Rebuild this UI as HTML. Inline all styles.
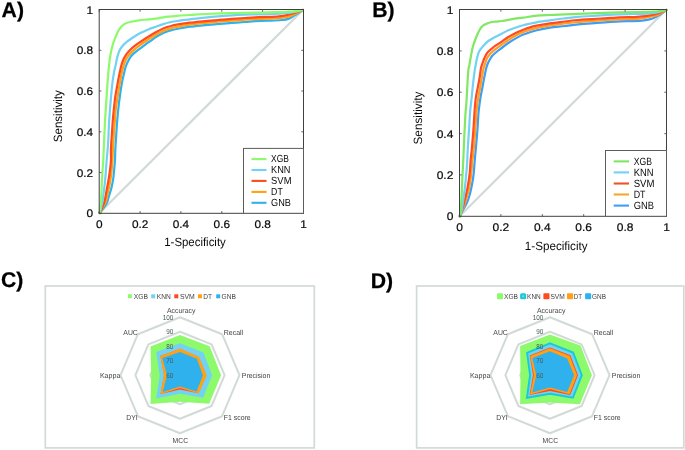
<!DOCTYPE html>
<html><head><meta charset="utf-8"><title>Figure</title>
<style>html,body{margin:0;padding:0;background:#fff;}svg{display:block;}</style>
</head><body>
<svg width="685" height="450" viewBox="0 0 685 450" style="text-rendering:geometricPrecision">
<rect width="685" height="450" fill="#fff"/>
<line x1="99.2" y1="213.3" x2="303.5" y2="9.5" stroke="#d2dad8" stroke-width="2.2"/>
<path d="M99.8,213.0 C100.9,211.5 104.8,206.8 106.3,204.0 C107.8,201.2 108.1,198.9 109.0,196.0 C109.9,193.1 111.0,189.8 111.7,186.7 C112.4,183.6 113.0,180.4 113.4,177.3 C113.8,174.2 114.0,170.9 114.3,168.0 C114.6,165.1 114.8,163.0 115.0,160.0 C115.2,157.0 115.1,153.9 115.3,150.0 C115.5,146.1 115.8,141.1 116.1,136.7 C116.4,132.2 116.7,127.4 117.0,123.3 C117.3,119.2 117.7,115.0 118.0,112.0 C118.3,109.0 118.4,108.2 118.7,105.3 C119.0,102.4 119.6,98.2 120.1,94.7 C120.6,91.2 121.1,87.3 121.7,84.0 C122.3,80.7 123.0,77.6 123.7,74.7 C124.4,71.8 124.9,69.1 125.7,66.7 C126.5,64.3 127.7,62.0 128.6,60.3 C129.5,58.6 129.9,57.6 131.0,56.3 C132.1,55.0 133.4,53.6 135.0,52.3 C136.6,51.0 138.5,49.6 140.3,48.3 C142.1,47.0 143.9,45.6 145.7,44.3 C147.5,43.0 149.2,41.9 151.0,40.6 C152.8,39.3 154.6,37.8 156.7,36.5 C158.8,35.2 161.1,34.0 163.3,33.0 C165.5,32.0 167.8,31.3 170.0,30.6 C172.2,29.9 173.4,29.6 176.7,29.0 C180.0,28.4 185.3,27.3 190.0,26.7 C194.7,26.1 200.3,25.6 205.0,25.1 C209.7,24.7 213.9,24.4 218.3,24.0 C222.8,23.6 227.2,23.2 231.7,22.9 C236.1,22.6 241.1,22.3 245.0,22.0 C248.9,21.7 251.1,21.3 255.0,21.1 C258.9,20.9 263.9,20.9 268.3,20.7 C272.8,20.5 278.4,20.3 281.7,20.0 C285.0,19.7 286.1,19.7 288.3,18.9 C290.5,18.1 292.6,16.6 295.0,15.1 C297.4,13.6 301.6,10.8 302.9,10.0" fill="none" stroke="#2fb1ee" stroke-width="2.2" stroke-linejoin="round" stroke-linecap="round"/>
<path d="M99.8,213.0 C100.7,211.3 104.1,206.0 105.4,202.7 C106.7,199.4 107.0,196.4 107.7,193.3 C108.4,190.2 109.1,187.3 109.7,184.0 C110.3,180.7 110.9,176.9 111.3,173.3 C111.7,169.8 112.0,166.1 112.3,162.7 C112.5,159.3 112.6,157.0 112.8,152.7 C113.0,148.4 113.4,141.6 113.7,136.7 C114.0,131.8 114.4,127.4 114.7,123.3 C115.0,119.2 115.2,115.0 115.5,112.0 C115.8,109.0 115.9,108.2 116.3,105.3 C116.7,102.4 117.3,98.2 117.9,94.7 C118.5,91.2 119.1,87.3 119.7,84.0 C120.3,80.7 120.8,77.6 121.4,74.7 C122.0,71.8 122.5,69.2 123.3,66.7 C124.0,64.2 125.0,61.6 125.9,59.7 C126.8,57.8 127.5,56.8 128.6,55.4 C129.7,54.0 130.9,52.7 132.3,51.4 C133.7,50.1 135.2,48.8 137.0,47.4 C138.8,46.0 140.9,44.5 143.0,43.0 C145.1,41.5 147.4,40.1 149.7,38.6 C152.0,37.1 154.4,35.5 156.7,34.2 C159.0,32.9 161.1,31.8 163.3,30.9 C165.5,30.0 167.8,29.2 170.0,28.6 C172.2,28.0 173.4,27.6 176.7,27.0 C180.0,26.4 185.3,25.4 190.0,24.7 C194.7,24.0 200.3,23.4 205.0,22.9 C209.7,22.4 213.9,22.1 218.3,21.7 C222.8,21.3 227.2,21.0 231.7,20.7 C236.1,20.4 241.1,20.0 245.0,19.7 C248.9,19.4 251.1,19.3 255.0,19.1 C258.9,18.9 264.1,18.9 268.3,18.7 C272.5,18.5 277.0,18.3 280.3,18.0 C283.6,17.7 285.9,17.4 288.3,16.7 C290.8,16.0 292.6,15.1 295.0,14.0 C297.4,12.9 301.6,10.7 302.9,10.0" fill="none" stroke="#ffa016" stroke-width="2.2" stroke-linejoin="round" stroke-linecap="round"/>
<path d="M99.8,213.0 C100.5,211.3 103.0,206.2 104.1,202.7 C105.2,199.2 105.6,195.6 106.3,192.0 C107.0,188.4 107.7,184.9 108.3,181.3 C108.9,177.8 109.5,174.2 109.9,170.7 C110.4,167.1 110.8,163.4 111.0,160.0 C111.2,156.6 110.8,153.9 110.9,150.0 C111.0,146.1 111.4,141.1 111.7,136.7 C112.0,132.2 112.3,127.6 112.6,123.3 C112.9,119.0 113.3,114.8 113.7,110.7 C114.1,106.6 114.5,102.7 115.0,98.7 C115.5,94.7 116.3,90.5 117.0,86.7 C117.7,82.9 118.3,79.3 119.0,76.0 C119.7,72.7 120.3,69.4 121.0,66.7 C121.7,64.0 122.4,61.8 123.3,59.7 C124.2,57.6 125.1,56.0 126.3,54.3 C127.5,52.6 128.9,51.1 130.3,49.7 C131.8,48.3 133.1,47.2 135.0,45.7 C136.9,44.2 139.5,42.5 141.7,41.0 C143.9,39.5 145.8,38.2 148.3,36.7 C150.8,35.2 154.2,33.2 156.7,31.8 C159.2,30.4 161.1,29.4 163.3,28.5 C165.5,27.6 167.8,26.9 170.0,26.3 C172.2,25.7 173.4,25.3 176.7,24.7 C180.0,24.1 185.3,23.3 190.0,22.7 C194.7,22.1 200.3,21.6 205.0,21.1 C209.7,20.7 213.9,20.4 218.3,20.0 C222.8,19.6 227.2,19.2 231.7,18.9 C236.1,18.6 241.1,18.3 245.0,18.0 C248.9,17.7 251.1,17.5 255.0,17.3 C258.9,17.1 264.3,17.0 268.3,16.9 C272.3,16.8 275.9,16.7 279.0,16.4 C282.1,16.1 284.3,15.7 287.0,15.1 C289.7,14.5 292.4,13.5 295.0,12.7 C297.6,11.8 301.6,10.4 302.9,10.0" fill="none" stroke="#ff4a1c" stroke-width="2.2" stroke-linejoin="round" stroke-linecap="round"/>
<path d="M99.8,213.0 C100.2,211.3 101.6,206.2 102.3,202.7 C103.0,199.2 103.2,195.6 103.7,192.0 C104.2,188.4 104.6,184.9 105.0,181.3 C105.4,177.8 105.6,174.2 105.9,170.7 C106.2,167.1 106.3,164.6 106.7,160.0 C107.1,155.4 107.7,149.4 108.1,143.3 C108.5,137.2 108.7,128.7 109.0,123.3 C109.3,117.9 109.6,115.0 109.9,110.7 C110.2,106.4 110.6,101.8 111.0,97.3 C111.4,92.8 111.8,88.4 112.3,84.0 C112.8,79.6 113.7,73.9 114.3,70.7 C114.9,67.5 115.2,67.1 115.7,65.0 C116.2,62.9 116.5,60.5 117.0,58.3 C117.5,56.1 118.2,53.6 119.0,51.7 C119.8,49.8 120.4,48.7 121.7,47.0 C123.0,45.3 125.0,43.4 127.0,41.7 C129.0,40.0 131.5,38.5 133.7,37.0 C135.9,35.5 137.9,34.3 140.3,33.0 C142.7,31.7 145.9,30.4 148.3,29.4 C150.8,28.4 152.5,27.9 155.0,27.0 C157.5,26.1 160.8,24.9 163.3,24.1 C165.8,23.3 167.8,22.8 170.0,22.3 C172.2,21.8 173.4,21.5 176.7,21.0 C180.0,20.5 185.3,19.9 190.0,19.3 C194.7,18.7 200.3,18.1 205.0,17.6 C209.7,17.1 213.9,16.7 218.3,16.3 C222.8,15.9 227.2,15.6 231.7,15.3 C236.1,15.0 241.1,14.8 245.0,14.7 C248.9,14.5 251.1,14.5 255.0,14.4 C258.9,14.3 263.9,14.2 268.3,14.0 C272.8,13.8 277.7,13.6 281.7,13.3 C285.7,13.0 288.8,12.9 292.3,12.3 C295.8,11.8 301.1,10.4 302.9,10.0" fill="none" stroke="#72d2f3" stroke-width="2.2" stroke-linejoin="round" stroke-linecap="round"/>
<path d="M99.8,213.0 C100.0,210.8 100.7,204.4 101.0,200.0 C101.3,195.6 101.5,191.1 101.7,186.7 C101.9,182.2 102.0,177.8 102.3,173.3 C102.6,168.9 103.1,163.9 103.3,160.0 C103.5,156.1 103.5,155.0 103.7,150.0 C103.9,145.0 104.3,136.7 104.6,130.0 C104.9,123.3 105.3,116.5 105.7,110.0 C106.1,103.5 106.6,96.8 107.0,90.7 C107.4,84.6 107.9,77.9 108.3,73.3 C108.7,68.7 109.0,65.9 109.3,63.0 C109.6,60.1 109.8,58.5 110.3,55.7 C110.8,52.9 111.5,49.2 112.3,46.3 C113.1,43.4 114.0,40.8 115.0,38.3 C116.0,35.8 117.2,33.0 118.3,31.0 C119.4,29.0 120.5,27.6 121.7,26.3 C122.9,25.0 124.2,24.2 125.7,23.4 C127.2,22.6 128.8,22.2 131.0,21.7 C133.2,21.2 136.1,20.7 139.0,20.3 C141.9,19.9 145.6,19.7 148.3,19.4 C151.0,19.1 152.5,19.0 155.0,18.7 C157.5,18.4 159.7,17.8 163.3,17.3 C166.9,16.8 172.2,16.3 176.7,15.9 C181.1,15.5 185.3,15.3 190.0,15.0 C194.7,14.7 198.1,14.3 205.0,14.0 C211.9,13.7 223.4,13.3 231.7,13.1 C240.0,12.9 248.9,12.7 255.0,12.6 C261.1,12.5 262.8,12.6 268.3,12.4 C273.9,12.2 282.5,12.1 288.3,11.7 C294.1,11.3 300.5,10.3 302.9,10.0" fill="none" stroke="#8cfa6a" stroke-width="2.2" stroke-linejoin="round" stroke-linecap="round"/>
<rect x="99.2" y="9.5" width="204.3" height="203.8" fill="none" stroke="#404040" stroke-width="1"/>
<path d="M99.2,213.3 v-2.2 M99.2,9.5 v2.2 M99.2,213.3 h2.2 M303.5,213.3 h-2.2" stroke="#404040" stroke-width="0.8" fill="none"/>
<text x="99.2" y="227.5" font-size="11" font-family="Liberation Sans, sans-serif" text-anchor="middle" font-weight="normal" fill="#0a0a0a" textLength="6.6" lengthAdjust="spacingAndGlyphs" stroke="#0a0a0a" stroke-width="0.2">0</text>
<text x="93.1" y="217.3" font-size="11" font-family="Liberation Sans, sans-serif" text-anchor="end" font-weight="normal" fill="#0a0a0a" textLength="6.6" lengthAdjust="spacingAndGlyphs" stroke="#0a0a0a" stroke-width="0.2">0</text>
<path d="M140.1,213.3 v-2.2 M140.1,9.5 v2.2 M99.2,172.6 h2.2 M303.5,172.6 h-2.2" stroke="#404040" stroke-width="0.8" fill="none"/>
<text x="140.1" y="227.5" font-size="11" font-family="Liberation Sans, sans-serif" text-anchor="middle" font-weight="normal" fill="#0a0a0a" textLength="16.4" lengthAdjust="spacingAndGlyphs" stroke="#0a0a0a" stroke-width="0.2">0.2</text>
<text x="93.1" y="176.6" font-size="11" font-family="Liberation Sans, sans-serif" text-anchor="end" font-weight="normal" fill="#0a0a0a" textLength="16.4" lengthAdjust="spacingAndGlyphs" stroke="#0a0a0a" stroke-width="0.2">0.2</text>
<path d="M180.9,213.3 v-2.2 M180.9,9.5 v2.2 M99.2,131.8 h2.2 M303.5,131.8 h-2.2" stroke="#404040" stroke-width="0.8" fill="none"/>
<text x="180.9" y="227.5" font-size="11" font-family="Liberation Sans, sans-serif" text-anchor="middle" font-weight="normal" fill="#0a0a0a" textLength="16.4" lengthAdjust="spacingAndGlyphs" stroke="#0a0a0a" stroke-width="0.2">0.4</text>
<text x="93.1" y="135.8" font-size="11" font-family="Liberation Sans, sans-serif" text-anchor="end" font-weight="normal" fill="#0a0a0a" textLength="16.4" lengthAdjust="spacingAndGlyphs" stroke="#0a0a0a" stroke-width="0.2">0.4</text>
<path d="M221.8,213.3 v-2.2 M221.8,9.5 v2.2 M99.2,91.0 h2.2 M303.5,91.0 h-2.2" stroke="#404040" stroke-width="0.8" fill="none"/>
<text x="221.8" y="227.5" font-size="11" font-family="Liberation Sans, sans-serif" text-anchor="middle" font-weight="normal" fill="#0a0a0a" textLength="16.4" lengthAdjust="spacingAndGlyphs" stroke="#0a0a0a" stroke-width="0.2">0.6</text>
<text x="93.1" y="95.0" font-size="11" font-family="Liberation Sans, sans-serif" text-anchor="end" font-weight="normal" fill="#0a0a0a" textLength="16.4" lengthAdjust="spacingAndGlyphs" stroke="#0a0a0a" stroke-width="0.2">0.6</text>
<path d="M262.6,213.3 v-2.2 M262.6,9.5 v2.2 M99.2,50.3 h2.2 M303.5,50.3 h-2.2" stroke="#404040" stroke-width="0.8" fill="none"/>
<text x="262.6" y="227.5" font-size="11" font-family="Liberation Sans, sans-serif" text-anchor="middle" font-weight="normal" fill="#0a0a0a" textLength="16.4" lengthAdjust="spacingAndGlyphs" stroke="#0a0a0a" stroke-width="0.2">0.8</text>
<text x="93.1" y="54.3" font-size="11" font-family="Liberation Sans, sans-serif" text-anchor="end" font-weight="normal" fill="#0a0a0a" textLength="16.4" lengthAdjust="spacingAndGlyphs" stroke="#0a0a0a" stroke-width="0.2">0.8</text>
<path d="M303.5,213.3 v-2.2 M303.5,9.5 v2.2 M99.2,9.5 h2.2 M303.5,9.5 h-2.2" stroke="#404040" stroke-width="0.8" fill="none"/>
<text x="303.5" y="227.5" font-size="11" font-family="Liberation Sans, sans-serif" text-anchor="middle" font-weight="normal" fill="#0a0a0a" textLength="6.6" lengthAdjust="spacingAndGlyphs" stroke="#0a0a0a" stroke-width="0.2">1</text>
<text x="93.1" y="13.5" font-size="11" font-family="Liberation Sans, sans-serif" text-anchor="end" font-weight="normal" fill="#0a0a0a" textLength="6.6" lengthAdjust="spacingAndGlyphs" stroke="#0a0a0a" stroke-width="0.2">1</text>
<rect x="243.5" y="148.4" width="60.0" height="64.9" fill="#fff" stroke="#5c5c5c" stroke-width="1"/>
<line x1="251.5" y1="159.1" x2="266.5" y2="159.1" stroke="#8cfa6a" stroke-width="2.1"/>
<text x="271.1" y="162.3" font-size="10.3" font-family="Liberation Sans, sans-serif" text-anchor="start" font-weight="normal" fill="#0a0a0a" textLength="17.8" lengthAdjust="spacingAndGlyphs" >XGB</text>
<line x1="251.5" y1="170.0" x2="266.5" y2="170.0" stroke="#72d2f3" stroke-width="2.1"/>
<text x="271.1" y="173.2" font-size="10.3" font-family="Liberation Sans, sans-serif" text-anchor="start" font-weight="normal" fill="#0a0a0a" textLength="19.4" lengthAdjust="spacingAndGlyphs" >KNN</text>
<line x1="251.5" y1="180.9" x2="266.5" y2="180.9" stroke="#ff4a1c" stroke-width="2.1"/>
<text x="271.1" y="184.1" font-size="10.3" font-family="Liberation Sans, sans-serif" text-anchor="start" font-weight="normal" fill="#0a0a0a" textLength="20.4" lengthAdjust="spacingAndGlyphs" >SVM</text>
<line x1="251.5" y1="191.9" x2="266.5" y2="191.9" stroke="#ffa016" stroke-width="2.1"/>
<text x="271.1" y="195.0" font-size="10.3" font-family="Liberation Sans, sans-serif" text-anchor="start" font-weight="normal" fill="#0a0a0a" textLength="11.6" lengthAdjust="spacingAndGlyphs" >DT</text>
<line x1="251.5" y1="202.8" x2="266.5" y2="202.8" stroke="#2fb1ee" stroke-width="2.1"/>
<text x="271.1" y="205.9" font-size="10.3" font-family="Liberation Sans, sans-serif" text-anchor="start" font-weight="normal" fill="#0a0a0a" textLength="19.8" lengthAdjust="spacingAndGlyphs" >GNB</text>
<text x="195.0" y="246.0" font-size="12" font-family="Liberation Sans, sans-serif" text-anchor="middle" font-weight="normal" fill="#0a0a0a" textLength="61.5" lengthAdjust="spacingAndGlyphs" >1-Specificity</text>
<text transform="translate(62.4,116.2) rotate(-90)" font-size="12" font-family="Liberation Sans, sans-serif" text-anchor="middle" fill="#0a0a0a" textLength="52.0" lengthAdjust="spacingAndGlyphs">Sensitivity</text>
<line x1="459.5" y1="216.3" x2="666.5" y2="9.5" stroke="#d2dad8" stroke-width="2.2"/>
<path d="M459.7,216.3 C460.3,215.1 462.3,211.3 463.5,209.0 C464.7,206.7 466.0,205.1 467.0,202.7 C468.0,200.3 468.8,197.8 469.7,194.7 C470.6,191.6 471.4,187.6 472.1,184.0 C472.8,180.4 473.3,177.0 473.7,173.3 C474.1,169.6 474.3,165.9 474.6,162.0 C474.9,158.1 475.2,155.3 475.7,150.0 C476.2,144.7 476.9,136.3 477.4,130.0 C477.9,123.7 478.1,117.2 478.6,112.0 C479.1,106.8 479.7,102.7 480.3,98.7 C480.9,94.7 481.6,91.6 482.3,88.0 C483.0,84.4 483.6,80.6 484.3,77.3 C485.0,74.0 485.7,70.4 486.3,68.0 C486.9,65.6 487.4,64.4 488.0,63.0 C488.6,61.6 489.0,60.9 489.7,59.7 C490.4,58.5 491.0,57.2 492.3,55.7 C493.6,54.2 496.1,52.3 497.7,51.0 C499.3,49.7 499.9,49.3 501.7,48.0 C503.5,46.7 505.8,44.7 508.3,43.0 C510.8,41.3 514.2,39.3 516.7,37.9 C519.2,36.5 521.1,35.5 523.3,34.6 C525.5,33.7 527.8,33.0 530.0,32.3 C532.2,31.6 533.4,31.1 536.7,30.3 C540.0,29.5 545.3,28.4 550.0,27.7 C554.7,27.0 560.3,26.6 565.0,26.0 C569.7,25.4 573.8,24.8 578.3,24.4 C582.8,23.9 587.2,23.6 591.7,23.3 C596.2,23.0 600.3,22.7 605.0,22.4 C609.7,22.1 615.3,21.5 620.0,21.3 C624.7,21.1 629.3,21.3 633.3,21.1 C637.3,20.9 640.9,20.7 644.0,20.3 C647.1,19.9 649.5,19.5 652.0,18.7 C654.5,17.9 656.3,16.8 658.7,15.3 C661.1,13.9 665.1,10.9 666.4,10.0" fill="none" stroke="#3c9ff4" stroke-width="2.2" stroke-linejoin="round" stroke-linecap="round"/>
<path d="M459.7,216.3 C460.2,215.2 461.4,212.9 462.5,210.0 C463.6,207.1 465.2,202.6 466.3,198.7 C467.4,194.8 468.6,190.9 469.4,186.7 C470.2,182.5 470.8,177.4 471.3,173.3 C471.8,169.2 471.8,165.9 472.2,162.0 C472.6,158.1 473.2,155.3 473.7,150.0 C474.2,144.7 474.8,136.3 475.3,130.0 C475.8,123.7 476.0,117.2 476.5,112.0 C477.0,106.8 477.5,102.7 478.1,98.7 C478.7,94.7 479.5,91.6 480.1,88.0 C480.7,84.4 481.3,80.6 481.9,77.3 C482.5,74.0 483.1,70.4 483.7,68.0 C484.3,65.6 484.8,64.6 485.3,63.0 C485.9,61.4 486.2,59.8 487.0,58.3 C487.8,56.8 489.0,55.1 490.3,53.7 C491.6,52.3 493.1,51.2 495.0,49.7 C496.9,48.2 499.5,46.3 501.7,44.7 C503.9,43.1 505.8,41.6 508.3,40.0 C510.8,38.4 514.2,36.3 516.7,35.0 C519.2,33.7 521.1,33.0 523.3,32.1 C525.5,31.2 527.8,30.5 530.0,29.8 C532.2,29.1 533.4,28.6 536.7,27.9 C540.0,27.1 545.3,26.1 550.0,25.3 C554.7,24.6 560.3,23.9 565.0,23.4 C569.7,22.8 573.8,22.4 578.3,22.0 C582.8,21.6 587.2,21.2 591.7,20.9 C596.2,20.6 600.3,20.3 605.0,20.0 C609.7,19.7 615.3,19.4 620.0,19.3 C624.7,19.2 629.3,19.3 633.3,19.1 C637.3,18.9 640.9,18.4 644.0,18.0 C647.1,17.6 649.5,17.0 652.0,16.4 C654.5,15.8 656.3,15.5 658.7,14.4 C661.1,13.3 665.1,10.7 666.4,10.0" fill="none" stroke="#ff9e22" stroke-width="2.2" stroke-linejoin="round" stroke-linecap="round"/>
<path d="M459.7,216.3 C460.1,215.2 461.2,212.7 462.0,210.0 C462.8,207.3 463.7,203.9 464.6,200.0 C465.6,196.1 466.9,191.1 467.7,186.7 C468.5,182.2 469.2,177.4 469.7,173.3 C470.2,169.2 470.2,165.9 470.5,162.0 C470.8,158.1 471.2,155.3 471.7,150.0 C472.2,144.7 472.9,136.3 473.4,130.0 C473.9,123.7 474.1,117.2 474.5,112.0 C474.9,106.8 475.2,102.7 475.7,98.7 C476.2,94.7 477.0,91.6 477.7,88.0 C478.4,84.4 479.1,80.6 479.7,77.3 C480.2,74.0 480.5,70.4 481.0,68.0 C481.5,65.6 482.1,64.6 482.6,63.0 C483.2,61.4 483.5,60.1 484.3,58.3 C485.1,56.5 486.1,54.2 487.7,52.3 C489.3,50.4 491.4,48.8 493.7,47.0 C496.0,45.2 499.3,43.4 501.7,41.7 C504.1,40.0 505.8,38.5 508.3,37.0 C510.8,35.5 514.2,33.6 516.7,32.4 C519.2,31.2 521.1,30.5 523.3,29.7 C525.5,28.9 527.8,28.1 530.0,27.4 C532.2,26.7 533.4,26.4 536.7,25.7 C540.0,25.0 545.3,24.1 550.0,23.4 C554.7,22.7 560.3,22.1 565.0,21.5 C569.7,20.9 573.8,20.4 578.3,20.0 C582.8,19.6 587.2,19.4 591.7,19.1 C596.2,18.8 600.3,18.6 605.0,18.3 C609.7,18.0 615.3,17.5 620.0,17.3 C624.7,17.1 629.5,17.2 633.3,17.1 C637.1,17.0 639.8,16.7 642.7,16.4 C645.6,16.1 648.0,15.6 650.7,15.1 C653.4,14.6 656.1,13.9 658.7,13.1 C661.3,12.2 665.1,10.5 666.4,10.0" fill="none" stroke="#ff4a22" stroke-width="2.2" stroke-linejoin="round" stroke-linecap="round"/>
<path d="M459.7,216.3 C460.0,215.6 460.8,214.7 461.4,212.0 C462.0,209.3 462.7,204.2 463.3,200.0 C463.9,195.8 464.5,191.1 465.0,186.7 C465.5,182.2 465.9,177.8 466.3,173.3 C466.7,168.9 467.1,163.9 467.3,160.0 C467.5,156.1 467.4,155.0 467.7,150.0 C468.0,145.0 468.6,136.3 469.0,130.0 C469.4,123.7 469.7,117.5 470.1,112.0 C470.6,106.5 471.2,102.0 471.7,97.3 C472.2,92.6 472.5,88.4 473.0,84.0 C473.5,79.6 474.2,73.9 474.7,70.7 C475.1,67.5 475.3,67.1 475.7,65.0 C476.1,62.9 476.4,60.5 477.0,58.3 C477.6,56.1 478.0,53.7 479.0,51.7 C480.0,49.7 481.4,48.1 483.0,46.3 C484.6,44.5 486.3,42.5 488.3,41.0 C490.3,39.5 492.8,38.2 495.0,37.0 C497.2,35.8 499.5,34.8 501.7,33.7 C503.9,32.6 505.8,31.4 508.3,30.3 C510.8,29.2 514.2,28.1 516.7,27.3 C519.2,26.5 521.1,25.9 523.3,25.3 C525.5,24.7 527.8,24.2 530.0,23.7 C532.2,23.2 533.4,22.9 536.7,22.3 C540.0,21.7 545.3,21.0 550.0,20.3 C554.7,19.6 560.3,18.9 565.0,18.3 C569.7,17.7 573.8,17.3 578.3,16.9 C582.8,16.5 587.2,16.3 591.7,16.0 C596.2,15.7 600.3,15.4 605.0,15.1 C609.7,14.8 615.3,14.5 620.0,14.3 C624.7,14.1 628.8,14.1 633.3,14.0 C637.8,13.9 642.9,13.8 646.7,13.6 C650.5,13.4 652.7,13.3 656.0,12.7 C659.3,12.1 664.7,10.4 666.4,10.0" fill="none" stroke="#70d2f4" stroke-width="2.2" stroke-linejoin="round" stroke-linecap="round"/>
<path d="M459.7,216.3 C459.8,215.6 460.2,214.7 460.5,212.0 C460.8,209.3 461.1,205.3 461.4,200.0 C461.7,194.7 462.0,186.7 462.3,180.0 C462.6,173.3 463.1,165.0 463.3,160.0 C463.5,155.0 463.5,155.0 463.7,150.0 C463.9,145.0 464.3,136.3 464.6,130.0 C464.9,123.7 465.3,116.3 465.6,112.0 C465.9,107.7 466.0,108.2 466.3,104.0 C466.6,99.8 467.0,92.2 467.3,86.7 C467.6,81.2 468.0,74.3 468.3,70.7 C468.6,67.1 468.9,67.5 469.4,65.0 C469.8,62.5 470.4,58.8 471.0,55.7 C471.6,52.6 472.1,49.4 473.0,46.3 C473.9,43.2 475.2,39.8 476.3,37.0 C477.4,34.2 478.6,31.6 479.7,29.7 C480.8,27.8 481.6,26.8 483.0,25.7 C484.4,24.6 486.3,23.7 488.3,23.0 C490.3,22.3 492.8,22.0 495.0,21.7 C497.2,21.4 499.5,21.3 501.7,21.0 C503.9,20.7 506.1,20.3 508.3,19.9 C510.5,19.5 512.5,19.0 515.0,18.6 C517.5,18.2 519.7,18.2 523.3,17.7 C526.9,17.2 532.2,16.1 536.7,15.7 C541.2,15.2 545.3,15.2 550.0,15.0 C554.7,14.8 558.0,14.6 565.0,14.3 C572.0,14.0 582.5,13.6 591.7,13.3 C600.9,13.0 612.0,12.6 620.0,12.4 C628.0,12.2 634.5,12.1 640.0,12.0 C645.5,11.9 648.9,11.9 653.3,11.6 C657.7,11.3 664.2,10.3 666.4,10.0" fill="none" stroke="#80e862" stroke-width="2.2" stroke-linejoin="round" stroke-linecap="round"/>
<rect x="459.5" y="9.5" width="207.0" height="206.8" fill="none" stroke="#404040" stroke-width="1"/>
<path d="M459.5,216.3 v-2.2 M459.5,9.5 v2.2 M459.5,216.3 h2.2 M666.5,216.3 h-2.2" stroke="#404040" stroke-width="0.8" fill="none"/>
<text x="459.5" y="230.7" font-size="11" font-family="Liberation Sans, sans-serif" text-anchor="middle" font-weight="normal" fill="#0a0a0a" textLength="6.7" lengthAdjust="spacingAndGlyphs" stroke="#0a0a0a" stroke-width="0.2">0</text>
<text x="453.4" y="220.3" font-size="11" font-family="Liberation Sans, sans-serif" text-anchor="end" font-weight="normal" fill="#0a0a0a" textLength="6.7" lengthAdjust="spacingAndGlyphs" stroke="#0a0a0a" stroke-width="0.2">0</text>
<path d="M500.9,216.3 v-2.2 M500.9,9.5 v2.2 M459.5,174.9 h2.2 M666.5,174.9 h-2.2" stroke="#404040" stroke-width="0.8" fill="none"/>
<text x="500.9" y="230.7" font-size="11" font-family="Liberation Sans, sans-serif" text-anchor="middle" font-weight="normal" fill="#0a0a0a" textLength="16.7" lengthAdjust="spacingAndGlyphs" stroke="#0a0a0a" stroke-width="0.2">0.2</text>
<text x="453.4" y="178.9" font-size="11" font-family="Liberation Sans, sans-serif" text-anchor="end" font-weight="normal" fill="#0a0a0a" textLength="16.7" lengthAdjust="spacingAndGlyphs" stroke="#0a0a0a" stroke-width="0.2">0.2</text>
<path d="M542.3,216.3 v-2.2 M542.3,9.5 v2.2 M459.5,133.6 h2.2 M666.5,133.6 h-2.2" stroke="#404040" stroke-width="0.8" fill="none"/>
<text x="542.3" y="230.7" font-size="11" font-family="Liberation Sans, sans-serif" text-anchor="middle" font-weight="normal" fill="#0a0a0a" textLength="16.7" lengthAdjust="spacingAndGlyphs" stroke="#0a0a0a" stroke-width="0.2">0.4</text>
<text x="453.4" y="137.6" font-size="11" font-family="Liberation Sans, sans-serif" text-anchor="end" font-weight="normal" fill="#0a0a0a" textLength="16.7" lengthAdjust="spacingAndGlyphs" stroke="#0a0a0a" stroke-width="0.2">0.4</text>
<path d="M583.7,216.3 v-2.2 M583.7,9.5 v2.2 M459.5,92.2 h2.2 M666.5,92.2 h-2.2" stroke="#404040" stroke-width="0.8" fill="none"/>
<text x="583.7" y="230.7" font-size="11" font-family="Liberation Sans, sans-serif" text-anchor="middle" font-weight="normal" fill="#0a0a0a" textLength="16.7" lengthAdjust="spacingAndGlyphs" stroke="#0a0a0a" stroke-width="0.2">0.6</text>
<text x="453.4" y="96.2" font-size="11" font-family="Liberation Sans, sans-serif" text-anchor="end" font-weight="normal" fill="#0a0a0a" textLength="16.7" lengthAdjust="spacingAndGlyphs" stroke="#0a0a0a" stroke-width="0.2">0.6</text>
<path d="M625.1,216.3 v-2.2 M625.1,9.5 v2.2 M459.5,50.9 h2.2 M666.5,50.9 h-2.2" stroke="#404040" stroke-width="0.8" fill="none"/>
<text x="625.1" y="230.7" font-size="11" font-family="Liberation Sans, sans-serif" text-anchor="middle" font-weight="normal" fill="#0a0a0a" textLength="16.7" lengthAdjust="spacingAndGlyphs" stroke="#0a0a0a" stroke-width="0.2">0.8</text>
<text x="453.4" y="54.9" font-size="11" font-family="Liberation Sans, sans-serif" text-anchor="end" font-weight="normal" fill="#0a0a0a" textLength="16.7" lengthAdjust="spacingAndGlyphs" stroke="#0a0a0a" stroke-width="0.2">0.8</text>
<path d="M666.5,216.3 v-2.2 M666.5,9.5 v2.2 M459.5,9.5 h2.2 M666.5,9.5 h-2.2" stroke="#404040" stroke-width="0.8" fill="none"/>
<text x="666.5" y="230.7" font-size="11" font-family="Liberation Sans, sans-serif" text-anchor="middle" font-weight="normal" fill="#0a0a0a" textLength="6.7" lengthAdjust="spacingAndGlyphs" stroke="#0a0a0a" stroke-width="0.2">1</text>
<text x="453.4" y="13.5" font-size="11" font-family="Liberation Sans, sans-serif" text-anchor="end" font-weight="normal" fill="#0a0a0a" textLength="6.7" lengthAdjust="spacingAndGlyphs" stroke="#0a0a0a" stroke-width="0.2">1</text>
<rect x="605.5" y="150.5" width="61.0" height="65.8" fill="#fff" stroke="#5c5c5c" stroke-width="1"/>
<line x1="613.7" y1="161.4" x2="629.0" y2="161.4" stroke="#7fe664" stroke-width="2.1"/>
<text x="633.7" y="164.5" font-size="10.51" font-family="Liberation Sans, sans-serif" text-anchor="start" font-weight="normal" fill="#0a0a0a" textLength="18.2" lengthAdjust="spacingAndGlyphs" >XGB</text>
<line x1="613.7" y1="172.4" x2="629.0" y2="172.4" stroke="#6fd3f5" stroke-width="2.1"/>
<text x="633.7" y="175.6" font-size="10.51" font-family="Liberation Sans, sans-serif" text-anchor="start" font-weight="normal" fill="#0a0a0a" textLength="19.8" lengthAdjust="spacingAndGlyphs" >KNN</text>
<line x1="613.7" y1="183.5" x2="629.0" y2="183.5" stroke="#e9562c" stroke-width="2.1"/>
<text x="633.7" y="186.6" font-size="10.51" font-family="Liberation Sans, sans-serif" text-anchor="start" font-weight="normal" fill="#0a0a0a" textLength="20.8" lengthAdjust="spacingAndGlyphs" >SVM</text>
<line x1="613.7" y1="194.5" x2="629.0" y2="194.5" stroke="#f2aa2e" stroke-width="2.1"/>
<text x="633.7" y="197.7" font-size="10.51" font-family="Liberation Sans, sans-serif" text-anchor="start" font-weight="normal" fill="#0a0a0a" textLength="11.8" lengthAdjust="spacingAndGlyphs" >DT</text>
<line x1="613.7" y1="205.6" x2="629.0" y2="205.6" stroke="#3d9ff5" stroke-width="2.1"/>
<text x="633.7" y="208.7" font-size="10.51" font-family="Liberation Sans, sans-serif" text-anchor="start" font-weight="normal" fill="#0a0a0a" textLength="20.2" lengthAdjust="spacingAndGlyphs" >GNB</text>
<text x="556.2" y="250.2" font-size="12" font-family="Liberation Sans, sans-serif" text-anchor="middle" font-weight="normal" fill="#0a0a0a" textLength="62.7" lengthAdjust="spacingAndGlyphs" >1-Specificity</text>
<text transform="translate(422.3,118.0) rotate(-90)" font-size="12" font-family="Liberation Sans, sans-serif" text-anchor="middle" fill="#0a0a0a" textLength="53.0" lengthAdjust="spacingAndGlyphs">Sensitivity</text>
<text x="1.6" y="17.0" font-size="21.2" font-family="Liberation Sans, sans-serif" font-weight="bold" fill="#000" stroke="#000" stroke-width="0.25">A)</text>
<text x="372.3" y="16.5" font-size="21.2" font-family="Liberation Sans, sans-serif" font-weight="bold" fill="#000" stroke="#000" stroke-width="0.25">B)</text>
<text x="1.0" y="287.1" font-size="21.2" font-family="Liberation Sans, sans-serif" font-weight="bold" fill="#000" stroke="#000" stroke-width="0.25">C)</text>
<text x="370.7" y="288.0" font-size="21.2" font-family="Liberation Sans, sans-serif" font-weight="bold" fill="#000" stroke="#000" stroke-width="0.25">D)</text>
<rect x="45.3" y="286.0" width="269.0" height="161.9" fill="#fff" stroke="#d2dad8" stroke-width="1.7"/>
<polygon points="180.0,360.7 190.5,364.9 194.9,375.2 190.5,385.5 180.0,389.7 169.5,385.5 165.1,375.2 169.5,364.9" fill="none" stroke="#d2dad8" stroke-width="2" stroke-linejoin="round"/>
<polygon points="180.0,346.2 201.0,354.7 209.8,375.2 201.0,395.7 180.0,404.2 159.0,395.7 150.2,375.2 159.0,354.7" fill="none" stroke="#d2dad8" stroke-width="2" stroke-linejoin="round"/>
<polygon points="180.0,331.7 211.6,344.4 224.6,375.2 211.6,406.0 180.0,418.7 148.4,406.0 135.4,375.2 148.4,344.4" fill="none" stroke="#d2dad8" stroke-width="2" stroke-linejoin="round"/>
<polygon points="180.0,317.2 222.1,334.2 239.5,375.2 222.1,416.2 180.0,433.2 137.9,416.2 120.5,375.2 137.9,334.2" fill="none" stroke="#d2dad8" stroke-width="2" stroke-linejoin="round"/>
<polygon points="180.0,334.9 209.7,346.3 221.1,375.2 209.2,403.7 180.0,401.7 150.5,403.9 151.2,375.2 150.5,346.5" fill="#8cfa6a"/>
<polygon points="180.0,343.3 203.4,352.4 212.1,375.2 203.1,397.8 180.0,393.8 156.2,398.4 159.8,375.2 156.2,352.0" fill="#72d2f3"/>
<polygon points="180.0,349.1 198.5,357.2 206.2,375.2 198.5,393.2 180.0,389.4 160.6,394.1 164.2,375.2 160.4,356.1" fill="#ff4a1c"/>
<polygon points="180.0,348.6 198.9,356.7 206.8,375.2 198.7,393.5 180.0,388.0 160.4,394.3 163.9,375.2 160.2,355.9" fill="#ffa016"/>
<polygon points="180.0,352.0 196.8,358.8 202.9,375.2 196.6,391.4 180.0,386.5 162.8,392.0 166.9,375.2 162.3,358.0" fill="#2fb1ee"/>
<text x="173.4" y="377.9" font-size="7.2" font-family="Liberation Sans, sans-serif" text-anchor="end" font-weight="normal" fill="#4a5a5a" textLength="7.1" lengthAdjust="spacingAndGlyphs" >60</text>
<text x="173.4" y="363.4" font-size="7.2" font-family="Liberation Sans, sans-serif" text-anchor="end" font-weight="normal" fill="#4a5a5a" textLength="7.1" lengthAdjust="spacingAndGlyphs" >70</text>
<text x="173.4" y="348.9" font-size="7.2" font-family="Liberation Sans, sans-serif" text-anchor="end" font-weight="normal" fill="#4a5a5a" textLength="7.1" lengthAdjust="spacingAndGlyphs" >80</text>
<text x="173.4" y="334.4" font-size="7.2" font-family="Liberation Sans, sans-serif" text-anchor="end" font-weight="normal" fill="#4a5a5a" textLength="7.1" lengthAdjust="spacingAndGlyphs" >90</text>
<text x="173.4" y="319.9" font-size="7.2" font-family="Liberation Sans, sans-serif" text-anchor="end" font-weight="normal" fill="#4a5a5a" textLength="10.6" lengthAdjust="spacingAndGlyphs" >100</text>
<text x="181.2" y="312.9" font-size="7.3" font-family="Liberation Sans, sans-serif" text-anchor="middle" font-weight="normal" fill="#444" textLength="28.4" lengthAdjust="spacingAndGlyphs" >Accuracy</text>
<text x="223.7" y="335.0" font-size="7.3" font-family="Liberation Sans, sans-serif" text-anchor="start" font-weight="normal" fill="#444" textLength="19.5" lengthAdjust="spacingAndGlyphs" >Recall</text>
<text x="241.8" y="377.6" font-size="7.3" font-family="Liberation Sans, sans-serif" text-anchor="start" font-weight="normal" fill="#444" textLength="28.5" lengthAdjust="spacingAndGlyphs" >Precision</text>
<text x="223.7" y="420.4" font-size="7.3" font-family="Liberation Sans, sans-serif" text-anchor="start" font-weight="normal" fill="#444" textLength="27.0" lengthAdjust="spacingAndGlyphs" >F1 score</text>
<text x="180.3" y="442.5" font-size="7.3" font-family="Liberation Sans, sans-serif" text-anchor="middle" font-weight="normal" fill="#444" textLength="15.5" lengthAdjust="spacingAndGlyphs" >MCC</text>
<text x="137.8" y="420.4" font-size="7.3" font-family="Liberation Sans, sans-serif" text-anchor="end" font-weight="normal" fill="#444" textLength="11.5" lengthAdjust="spacingAndGlyphs" >DYI</text>
<text x="120.4" y="377.6" font-size="7.3" font-family="Liberation Sans, sans-serif" text-anchor="end" font-weight="normal" fill="#444" textLength="20.5" lengthAdjust="spacingAndGlyphs" >Kappa</text>
<text x="137.8" y="335.0" font-size="7.3" font-family="Liberation Sans, sans-serif" text-anchor="end" font-weight="normal" fill="#444" textLength="14.5" lengthAdjust="spacingAndGlyphs" >AUC</text>
<rect x="127.9" y="294.3" width="4.0" height="4.0" rx="0.0" fill="#8cfa6a"/>
<text x="133.7" y="298.9" font-size="7.3" font-family="Liberation Sans, sans-serif" text-anchor="start" font-weight="normal" fill="#444" textLength="14.3" lengthAdjust="spacingAndGlyphs" >XGB</text>
<rect x="151.2" y="294.3" width="4.0" height="4.0" rx="0.0" fill="#72d2f3"/>
<text x="156.8" y="298.9" font-size="7.3" font-family="Liberation Sans, sans-serif" text-anchor="start" font-weight="normal" fill="#444" textLength="14.0" lengthAdjust="spacingAndGlyphs" >KNN</text>
<rect x="174.3" y="294.3" width="4.0" height="4.0" rx="0.0" fill="#ff4a1c"/>
<text x="179.9" y="298.9" font-size="7.3" font-family="Liberation Sans, sans-serif" text-anchor="start" font-weight="normal" fill="#444" textLength="14.9" lengthAdjust="spacingAndGlyphs" >SVM</text>
<rect x="198.0" y="294.3" width="4.0" height="4.0" rx="0.0" fill="#ffa016"/>
<text x="203.2" y="298.9" font-size="7.3" font-family="Liberation Sans, sans-serif" text-anchor="start" font-weight="normal" fill="#444" textLength="8.8" lengthAdjust="spacingAndGlyphs" >DT</text>
<rect x="216.2" y="294.3" width="4.0" height="4.0" rx="0.0" fill="#2fb1ee"/>
<text x="221.6" y="298.9" font-size="7.3" font-family="Liberation Sans, sans-serif" text-anchor="start" font-weight="normal" fill="#444" textLength="14.4" lengthAdjust="spacingAndGlyphs" >GNB</text>
<rect x="416.6" y="286.0" width="267.2" height="161.9" fill="#fff" stroke="#d2dad8" stroke-width="1.7"/>
<polygon points="550.0,360.7 560.5,364.9 564.9,375.2 560.5,385.5 550.0,389.7 539.5,385.5 535.1,375.2 539.5,364.9" fill="none" stroke="#d2dad8" stroke-width="2" stroke-linejoin="round"/>
<polygon points="550.0,346.2 571.0,354.7 579.8,375.2 571.0,395.7 550.0,404.2 529.0,395.7 520.2,375.2 529.0,354.7" fill="none" stroke="#d2dad8" stroke-width="2" stroke-linejoin="round"/>
<polygon points="550.0,331.7 581.6,344.4 594.6,375.2 581.6,406.0 550.0,418.7 518.4,406.0 505.4,375.2 518.4,344.4" fill="none" stroke="#d2dad8" stroke-width="2" stroke-linejoin="round"/>
<polygon points="550.0,317.2 592.1,334.2 609.5,375.2 592.1,416.2 550.0,433.2 507.9,416.2 490.5,375.2 507.9,334.2" fill="none" stroke="#d2dad8" stroke-width="2" stroke-linejoin="round"/>
<polygon points="550.0,334.6 580.5,345.5 591.9,375.2 579.9,404.3 550.0,402.5 520.1,404.3 520.5,375.2 520.1,346.1" fill="#8cfa6a"/>
<polygon points="550.0,343.3 573.1,352.6 581.8,375.2 572.9,397.6 550.0,393.8 526.9,397.8 530.1,375.2 527.1,352.8" fill="#72d2f3" stroke="#18c8dc" stroke-width="1.9" stroke-linejoin="miter"/>
<polygon points="550.0,347.6 570.4,355.3 578.0,375.2 570.2,394.9 550.0,390.9 529.6,395.1 533.0,375.2 529.8,355.5" fill="#ff4a1c"/>
<polygon points="550.0,348.2 569.8,355.9 577.1,375.2 569.6,394.3 550.0,389.1 530.0,394.7 533.9,375.2 530.2,355.9" fill="#ffa016"/>
<polygon points="550.0,351.2 567.2,358.4 574.1,375.2 567.2,392.0 550.0,387.4 532.3,392.4 536.3,375.2 532.3,358.0" fill="#2fb1ee"/>
<text x="543.4" y="377.9" font-size="7.2" font-family="Liberation Sans, sans-serif" text-anchor="end" font-weight="normal" fill="#4a5a5a" textLength="7.1" lengthAdjust="spacingAndGlyphs" >60</text>
<text x="543.4" y="363.4" font-size="7.2" font-family="Liberation Sans, sans-serif" text-anchor="end" font-weight="normal" fill="#4a5a5a" textLength="7.1" lengthAdjust="spacingAndGlyphs" >70</text>
<text x="543.4" y="348.9" font-size="7.2" font-family="Liberation Sans, sans-serif" text-anchor="end" font-weight="normal" fill="#4a5a5a" textLength="7.1" lengthAdjust="spacingAndGlyphs" >80</text>
<text x="543.4" y="334.4" font-size="7.2" font-family="Liberation Sans, sans-serif" text-anchor="end" font-weight="normal" fill="#4a5a5a" textLength="7.1" lengthAdjust="spacingAndGlyphs" >90</text>
<text x="543.4" y="319.9" font-size="7.2" font-family="Liberation Sans, sans-serif" text-anchor="end" font-weight="normal" fill="#4a5a5a" textLength="10.6" lengthAdjust="spacingAndGlyphs" >100</text>
<text x="551.2" y="312.9" font-size="7.3" font-family="Liberation Sans, sans-serif" text-anchor="middle" font-weight="normal" fill="#444" textLength="28.4" lengthAdjust="spacingAndGlyphs" >Accuracy</text>
<text x="593.7" y="335.0" font-size="7.3" font-family="Liberation Sans, sans-serif" text-anchor="start" font-weight="normal" fill="#444" textLength="19.5" lengthAdjust="spacingAndGlyphs" >Recall</text>
<text x="611.8" y="377.6" font-size="7.3" font-family="Liberation Sans, sans-serif" text-anchor="start" font-weight="normal" fill="#444" textLength="28.5" lengthAdjust="spacingAndGlyphs" >Precision</text>
<text x="593.7" y="420.4" font-size="7.3" font-family="Liberation Sans, sans-serif" text-anchor="start" font-weight="normal" fill="#444" textLength="27.0" lengthAdjust="spacingAndGlyphs" >F1 score</text>
<text x="550.3" y="442.5" font-size="7.3" font-family="Liberation Sans, sans-serif" text-anchor="middle" font-weight="normal" fill="#444" textLength="15.5" lengthAdjust="spacingAndGlyphs" >MCC</text>
<text x="507.8" y="420.4" font-size="7.3" font-family="Liberation Sans, sans-serif" text-anchor="end" font-weight="normal" fill="#444" textLength="11.5" lengthAdjust="spacingAndGlyphs" >DYI</text>
<text x="490.4" y="377.6" font-size="7.3" font-family="Liberation Sans, sans-serif" text-anchor="end" font-weight="normal" fill="#444" textLength="20.5" lengthAdjust="spacingAndGlyphs" >Kappa</text>
<text x="507.8" y="335.0" font-size="7.3" font-family="Liberation Sans, sans-serif" text-anchor="end" font-weight="normal" fill="#444" textLength="14.5" lengthAdjust="spacingAndGlyphs" >AUC</text>
<rect x="497.0" y="293.2" width="6.1" height="6.1" rx="0.8" fill="#8cfa6a"/>
<text x="504.0" y="298.9" font-size="7.3" font-family="Liberation Sans, sans-serif" text-anchor="start" font-weight="normal" fill="#444" textLength="14.0" lengthAdjust="spacingAndGlyphs" >XGB</text>
<rect x="521.1" y="294.2" width="4.1" height="4.1" rx="0.6" fill="#72d2f3" stroke="#18c8dc" stroke-width="2"/>
<text x="527.1" y="298.9" font-size="7.3" font-family="Liberation Sans, sans-serif" text-anchor="start" font-weight="normal" fill="#444" textLength="13.7" lengthAdjust="spacingAndGlyphs" >KNN</text>
<rect x="543.4" y="293.2" width="6.1" height="6.1" rx="0.8" fill="#ff4a1c"/>
<text x="550.4" y="298.9" font-size="7.3" font-family="Liberation Sans, sans-serif" text-anchor="start" font-weight="normal" fill="#444" textLength="14.4" lengthAdjust="spacingAndGlyphs" >SVM</text>
<rect x="567.0" y="293.2" width="6.1" height="6.1" rx="0.8" fill="#ffa016"/>
<text x="573.7" y="298.9" font-size="7.3" font-family="Liberation Sans, sans-serif" text-anchor="start" font-weight="normal" fill="#444" textLength="8.3" lengthAdjust="spacingAndGlyphs" >DT</text>
<rect x="585.1" y="293.2" width="6.1" height="6.1" rx="0.8" fill="#2fb1ee"/>
<text x="592.1" y="298.9" font-size="7.3" font-family="Liberation Sans, sans-serif" text-anchor="start" font-weight="normal" fill="#444" textLength="13.9" lengthAdjust="spacingAndGlyphs" >GNB</text>
</svg>
</body></html>
